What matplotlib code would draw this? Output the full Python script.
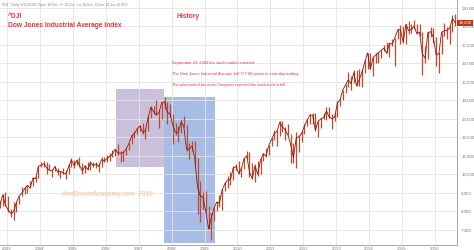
import numpy as np
import pandas as pd
import matplotlib
matplotlib.use("Agg")
import matplotlib.pyplot as plt
import matplotlib.dates as mdates
from matplotlib.patches import Rectangle
from matplotlib.ticker import FuncFormatter

plt.rcParams['font.family'] = ['Liberation Sans', 'DejaVu Sans']

# monthly bars of ^DJI, Oct 2002 .. Aug 2016
months = pd.date_range("2002-10-01", "2016-08-01", freq="MS") + pd.Timedelta(days=14)

high = [8550, 8932, 9040,
        8842, 8110, 8520, 8510, 8850, 9330, 9340, 9430, 9660, 9850, 9900, 10460,
        10700, 10750, 10680, 10570, 10320, 10480, 10370, 10200, 10340, 10240, 10570, 10870,
        10780, 10840, 10940, 10600, 10540, 10650, 10720, 10700, 10690, 10600, 10930, 10960,
        11050, 11140, 11320, 11390, 11670, 11250, 11250, 11410, 11720, 12170, 12360, 12530,
        12660, 12790, 12500, 13140, 13680, 13690, 14020, 13470, 13930, 14200, 13940, 13790,
        13290, 12770, 12620, 13020, 13140, 12660, 11700, 11810, 11790, 10880, 9650, 9030,
        9090, 8320, 7930, 8220, 8580, 8880, 9190, 9620, 9920, 10120, 10480, 10580,
        10730, 10410, 10900, 11260, 11200, 10600, 10580, 10720, 10880, 11150, 11450, 11590,
        11990, 12390, 12420, 12880, 12880, 12590, 12750, 12170, 11720, 12280, 12140, 12330,
        12720, 13010, 13290, 13340, 13340, 12900, 13080, 13330, 13650, 13660, 13290, 13350,
        13970, 14080, 14590, 14890, 15540, 15340, 15630, 15660, 15710, 15680, 16170, 16590,
        16590, 16370, 16590, 16600, 16740, 16980, 17150, 17100, 17350, 17400, 17890, 18100,
        18000, 18160, 18290, 18160, 18350, 18140, 18140, 17710, 16930, 17690, 17980, 17900,
        17430, 16620, 17720, 18170, 17980, 18020, 18620, 18670]

low = [8200, 8300, 8300,
       7990, 7700, 7524, 7990, 8400, 8850, 8950, 9000, 9280, 9400, 9570, 9800,
       10400, 10400, 10050, 10230, 9850, 10190, 9960, 9800, 10000, 9750, 10030, 10400,
       10370, 10500, 10400, 10010, 10100, 10270, 10270, 10400, 10340, 10160, 10400, 10700,
       10660, 10750, 10950, 11010, 11060, 10700, 10740, 11040, 11330, 11670, 11950, 12190,
       12350, 12200, 11940, 12370, 13050, 13260, 13210, 12520, 13000, 13540, 12740, 13170,
       11640, 12130, 11730, 12260, 12590, 11280, 10830, 11280, 10460, 7880, 7450, 8150,
       7910, 7060, 6470, 7470, 8050, 8220, 8090, 9120, 9250, 9430, 9680, 10230,
       10050, 9840, 10320, 10850, 9870, 9770, 9610, 9930, 10000, 10750, 10930, 11050,
       11560, 11880, 11550, 12090, 12300, 11860, 12140, 10600, 10600, 10360, 11230, 11740,
       12190, 12640, 12750, 12710, 12350, 12040, 12490, 12980, 12970, 13050, 12470, 12880,
       13100, 13700, 14050, 14400, 14710, 14550, 14970, 14760, 14780, 14720, 15470, 15700,
       15680, 15340, 16000, 16020, 16300, 16650, 16560, 16330, 16940, 15860, 17320, 17070,
       17130, 17040, 17600, 17660, 17840, 17580, 17460, 15370, 16000, 16250, 17440, 17130,
       15840, 15500, 16500, 17480, 17330, 17060, 17710, 18050]

close = [8400, 8896, 8342,
         8054, 7891, 7992, 8480, 8850, 8985, 9234, 9415, 9275, 9801, 9782, 10454,
         10488, 10584, 10358, 10226, 10188, 10435, 10140, 10174, 10080, 10027, 10428, 10783,
         10490, 10766, 10504, 10193, 10467, 10275, 10641, 10482, 10569, 10440, 10806, 10718,
         10865, 10993, 11109, 11367, 11168, 11150, 11186, 11381, 11679, 12081, 12222, 12463,
         12622, 12269, 12354, 13063, 13628, 13409, 13212, 13358, 13896, 13930, 13372, 13265,
         12650, 12266, 12263, 12820, 12638, 11350, 11378, 11544, 10851, 9325, 8829, 8776,
         8001, 7063, 7609, 8168, 8500, 8447, 9172, 9496, 9712, 9713, 10345, 10428,
         10067, 10325, 10857, 11009, 10137, 9774, 10466, 10015, 10788, 11118, 11006, 11578,
         11892, 12226, 12320, 12811, 12570, 12414, 12143, 11614, 10913, 11955, 12046, 12218,
         12633, 12952, 13212, 13214, 12393, 12880, 13009, 13091, 13437, 13096, 13026, 13104,
         13861, 14054, 14579, 14840, 15116, 14910, 15500, 14810, 15130, 15546, 16086, 16577,
         15699, 16322, 16458, 16581, 16717, 16827, 16563, 17098, 17043, 17391, 17828, 17823,
         17165, 18133, 17776, 17841, 18011, 17620, 17690, 16528, 16285, 17664, 17720, 17425,
         16466, 16517, 17685, 17774, 17787, 17930, 18432, 18200]

years = list(range(2003, 2017))
y_ticks = list(range(7000, 20000, 1000))

# shaded periods (start, end, low, high)
pre_crash = ("2006-04-26", "2007-10-12", 10405, 14622)
crash = ("2007-10-12", "2009-04-30", 6297, 14189)

red = "#e53a3f"

fig = plt.figure(figsize=(4.74, 2.5), dpi=100)
ax = fig.add_axes([0, 0.02, 457 / 474, 0.98])

for (s, e, lo, hi), col in [(pre_crash, "#cbc0dc"), (crash, "#a8bde6")]:
    x0 = mdates.date2num(pd.Timestamp(s))
    x1 = mdates.date2num(pd.Timestamp(e))
    ax.add_patch(Rectangle((x0, lo), x1 - x0, hi - lo, facecolor=col, edgecolor="none", zorder=0.3))

ax.vlines(months, low, high, color="#c6482c", lw=0.9, zorder=2)
ax.plot(months, close, color="#801c10", lw=0.6, zorder=3)

ax.set_xlim(pd.Timestamp("2002-10-15"), pd.Timestamp("2016-09-03"))
ax.set_ylim(6189, 19432)

ax.set_xticks([pd.Timestamp(f"{y}-01-01") for y in years])
ax.set_xticklabels([str(y) for y in years])
ax.set_yticks(y_ticks)
ax.yaxis.set_major_formatter(FuncFormatter(lambda v, p: f"{int(v):,}"))
ax.yaxis.tick_right()
ax.tick_params(axis="both", labelsize=3.2, colors="#777777", length=0, pad=1.5)
ax.tick_params(axis="y", pad=3)

ax.set_axisbelow(True)
ax.grid(True, color="#e4e4e4", lw=0.6)
for side in ["left", "top"]:
    ax.spines[side].set_visible(False)
for side in ["right", "bottom"]:
    ax.spines[side].set_color("#999999")
    ax.spines[side].set_linewidth(0.6)

# last price box
ax.text(1.003, close[-1], f"{close[-1]:,}", transform=ax.get_yaxis_transform(),
        fontsize=3.2, color="white", va="center", ha="left",
        bbox=dict(boxstyle="square,pad=0.25", fc="#b8361c", ec="none"), clip_on=False)

fig.text(0.002, 0.988, "^DJI - Daily 9/12/2016 Open 18,0xx, Hi 18,2xx, Lo 18,0xx, Close 18,1xx (0.4%)",
         fontsize=2.6, color="#888888", va="top")

fig.text(0.017, 0.935, "^DJI", fontsize=4.8, color=red, weight="bold", va="center")
fig.text(0.017, 0.897, "Dow Jones Industrial Average Index", fontsize=4.8, color=red, weight="bold", va="center")
fig.text(0.373, 0.936, "History", fontsize=4.8, color=red, weight="bold", va="center")

notes = ["September 29, 2008 the stock market crashed.",
         "The Dow Jones Industrial Average fell 777.68 points in intra-day trading.",
         "The plummeted because Congress rejected the bank bailout bill."]
for i, t in enumerate(notes):
    fig.text(0.362, 0.748 - i * 0.044, t, fontsize=2.9, color=red, va="center")

fig.text(0.131, 0.22, "AmiBrokerAcademy.com  2016", fontsize=4.8, color="#f6c28c", va="center")

fig.savefig("out.png", dpi=100)
